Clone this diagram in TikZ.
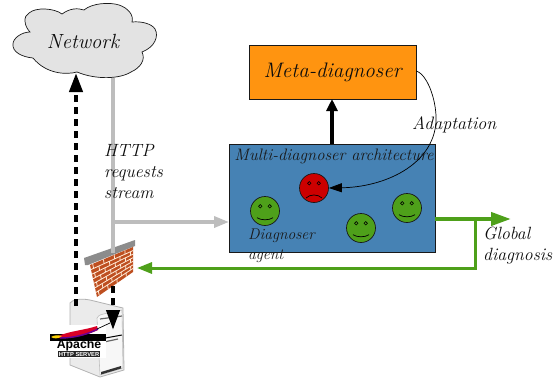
\documentclass[tikz,border=0pt]{standalone}
\usepackage{fontspec}
\setsansfont{Liberation Sans}
\usetikzlibrary{arrows.meta,calc}
\definecolor{gr}{HTML}{4EA01A}
\definecolor{stb}{HTML}{4682B4}
\definecolor{org}{HTML}{FF9410}
\definecolor{rd}{HTML}{CC0000}
\definecolor{grayl}{HTML}{BDBDBD}
\definecolor{brk}{HTML}{BE4F20}
\tikzset{
 lab/.style={font=\fontsize{17.7}{21}\selectfont\itshape,inner sep=0pt,align=left,text=black!95,anchor=west},
 face/.style={circle,draw=black!90,line width=.7pt,minimum size=29pt,inner sep=0pt},
 dashedarrow/.style={line width=4pt,black,dash pattern=on 7pt off 5pt},
 brick/.style={white!85!orange,line width=.8pt},
}
\newcommand{\facefeatures}[3]{%
 \draw[black,line width=.6pt] ($(#1)+(-4.7,-4.7)$) circle (1.7);
 \draw[black,line width=.6pt] ($(#1)+(4.7,-4.7)$) circle (1.7);
 \draw[black,line width=.7pt] ($(#1)+(-8,#2)$) .. controls ($(#1)+(-4,#3)$) and ($(#1)+(4,#3)$) .. ($(#1)+(8,#2)$);
}
\begin{document}
\begin{tikzpicture}[x=1pt,y=-1pt]
\useasboundingbox (0,0) rectangle (553,380);
% cloud
\draw[fill=black!11,draw=black!90,line width=.7pt]
 (30,32) .. controls (24,26) and (23,16) .. (29,13)
 .. controls (36,7) and (54,8) .. (62,14)
 .. controls (70,8) and (78,8) .. (84,10)
 .. controls (92,3) and (110,2) .. (119,5)
 .. controls (128,8) and (134,15) .. (132,22)
 .. controls (142,21) and (152,24) .. (155,29)
 .. controls (159,36) and (155,47) .. (142,52)
 .. controls (146,60) and (140,68) .. (131,72)
 .. controls (120,79) and (96,80) .. (77,72)
 .. controls (66,75) and (46,74) .. (33,58)
 .. controls (22,57) and (12,52) .. (13,44)
 .. controls (13,38) and (22,32) .. (30,32) -- cycle;
\node[lab,anchor=center,font=\fontsize{20.5}{24}\selectfont\itshape] (net) at (83,41) {Network};
\coordinate (netin) at (76,73);
\coordinate (netout) at (113,78);
% Meta
\node[draw=black!90,fill=org,line width=.7pt,minimum width=167pt,minimum height=54pt,inner sep=0pt,font=\fontsize{21}{24}\selectfont\itshape,text=black!95] (meta) at (332.5,72) {Meta-diagnoser};
% Arch
\node[draw=black!90,fill=stb,line width=.7pt,minimum width=206pt,minimum height=108pt,inner sep=0pt] (arch) at (332,198) {};
\node[lab,anchor=center,text=black!90,font=\fontsize{16.6}{20}\selectfont\itshape] (archlab) at (334,156) {Multi-diagnoser architecture};
\draw[-{Triangle[length=12pt,width=11pt]},line width=4.5pt] (arch.north -| 332,144) -- (332,99);
% faces
\node[face,fill=rd] (f1) at (314,188) {};
\node[face,fill=gr] (f2) at (265,211) {};
\node[face,fill=gr] (f3) at (361,228) {};
\node[face,fill=gr] (f4) at (407,208) {};
\facefeatures{f1}{10}{6}
\facefeatures{f2}{6.7}{9.5}
\facefeatures{f3}{6.7}{9.5}
\facefeatures{f4}{6.7}{9.5}
\node[lab,text=black!90,font=\fontsize{15.5}{20}\selectfont\itshape] (dag) at (248,246) {Diagnoser\\agent};
% adaptation
\draw[-{Triangle[length=13pt,width=9pt]},line width=.7pt,black] (meta.east |- 0,71) .. controls (428,75) and (437,102) .. (436,122) .. controls (433,165) and (385,187) .. (f1.east);
\node[lab,font=\fontsize{18}{21}\selectfont\itshape] (ad) at (412,125) {Adaptation};
% firewall
\fill[black!45] (84,258) -- (135,240) -- (135,246) -- (88,265) -- (85,265) -- cycle;
\fill[brk] (90,265) -- (133,247) -- (133,272) -- (97,297) -- cycle;
\foreach \i [evaluate=\i as \t using \i/7] in {1,...,6}{
 \draw[brick] ($(90,265)!\t!(97,297)$) -- ($(133,247)!\t!(133,272)$);
}
\foreach \i in {0,...,6}{
 \foreach \j in {0,1,2,3}{
  \pgfmathsetmacro{\ta}{\i/7}
  \pgfmathsetmacro{\tb}{(\i+1)/7}
  \pgfmathsetmacro{\u}{(\j+0.25+0.5*mod(\i,2))/4}
  \ifdim\u pt<1pt
  \draw[brick] ($($(90,265)!\ta!(97,297)$)!\u!($(133,247)!\ta!(133,272)$)$) -- ($($(90,265)!\tb!(97,297)$)!\u!($(133,247)!\tb!(133,272)$)$);
  \fi
 }
}
% gray arrow
\coordinate (corner) at (113,222);
\draw[grayl,line width=3.4pt] (netout) -- (113,253);
\draw[grayl,line width=3.4pt,-{Triangle[length=15pt,width=11pt]}] (corner) -- (229,222);
\node[lab] (http) at (104,172) {HTTP\\requests\\stream};
\coordinate (fw) at (137,268);
% green
\draw[gr,line width=4pt,-{Triangle[length=20pt,width=13pt]}] (arch.east |- 0,219) -- (511,219);
\coordinate (gj) at (475,219);
\draw[gr,line width=3pt,-{Triangle[length=15pt,width=11pt]}] (gj) -- (475,268) -- (fw);
\node[lab] (gd) at (483,246) {Global\\diagnosis};
% server
\fill[black!8,draw=black!30,line width=.8pt] (70,303) .. controls (72,300) and (80,298) .. (90,300) -- (123,308) -- (124,370) -- (100,377) -- (70,365) -- cycle;
\draw[black!25,line width=.6pt,fill=black!3] (97,318) .. controls (98,314) and (105,314) .. (122,310) -- (123,368) -- (100,375) -- cycle;
\fill[black!80] (101,372) -- (121,366) -- (121,368.5) -- (101,374.5) -- cycle;
\draw[black,line width=1pt] (100,339) -- (122,335);
\draw[black!60,line width=1.2pt] (104,342) -- (118,339);
\draw[black!60,line width=1.2pt] (100,319) -- (122,316);
% apache
\fill[white] (50,325) rectangle (106,358);
\fill[black] (50,334) rectangle (106,341);
\fill[red!70!violet] (58,336) .. controls (70,331) and (85,330) .. (97,326) -- (98,330) .. controls (85,336) and (70,339) .. (58,338) -- cycle;
\draw[line width=1.4pt,violet!80!blue] (60,338) .. controls (75,338) and (88,334) .. (98,329);
\fill[yellow!70!orange] (51,337) .. controls (54,335) and (58,335) .. (62,336) .. controls (58,339) and (54,339) .. (51,337) -- cycle;
\draw[line width=.7pt,black] (97,329) -- (110,323);
\node[inner sep=0pt,font=\sffamily\bfseries\fontsize{12.3}{12}\selectfont] (ap) at (79,345) {Apache};
\node[inner sep=.5pt,fill=black!85,text=white,font=\sffamily\bfseries\fontsize{5.8}{6}\selectfont] (hs) at (79,354) {HTTP SERVER};
% dashed
\coordinate (srv1) at (76,306);
\coordinate (srv2) at (113,286);
\draw[dashedarrow] (srv1) -- (76,95);
\draw[-{Triangle[length=19pt,width=13pt]},line width=4pt] (76,92) -- (netin);
\draw[dashedarrow] (srv2) -- (113,308);
\draw[-{Triangle[length=20pt,width=13pt]},line width=4pt] (113,310) -- (113,330);
\end{tikzpicture}
\end{document}
